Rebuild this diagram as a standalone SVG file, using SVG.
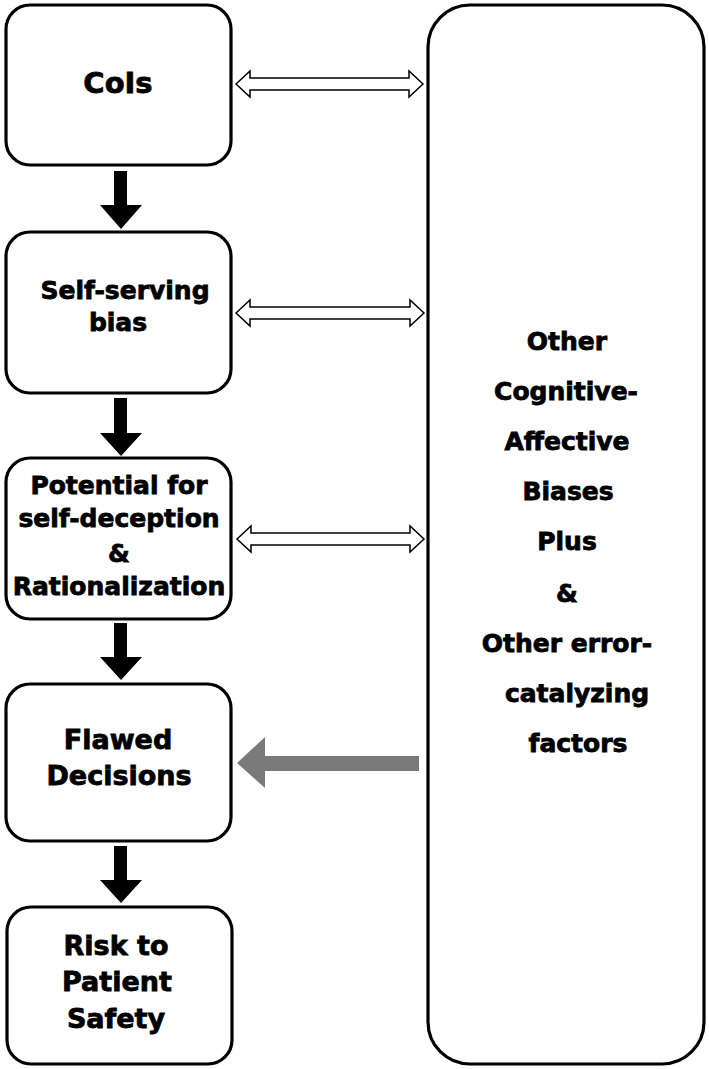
<svg xmlns="http://www.w3.org/2000/svg" width="709" height="1069" viewBox="0 0 709 1069">
<style>
.box{fill:#fff;stroke:#000;stroke-width:3.2}
.t{font-family:"DejaVu Sans",Verdana,sans-serif;font-weight:bold;font-size:25px;fill:#000;stroke:#000;stroke-width:0.8;text-anchor:middle}
.big{font-size:27px}
.dbl{fill:#fff;stroke:#000;stroke-width:1.5;stroke-linejoin:miter}
.down{fill:#000}
.gray{fill:#7a7a7a}
</style>
<rect width="709" height="1069" fill="#fff"/>
<g id="connectors">
<polygon class="dbl" points="236,84 250,71 250,78 409,78 409,71 423,84 409,97 409,90 250,90 250,97"/>
<polygon class="dbl" points="236,313 250,300 250,307 410,307 410,300 424,313 410,326 410,319 250,319 250,326"/>
<polygon class="dbl" points="237,539 251,526 251,533 410,533 410,526 424,539 410,552 410,545 251,545 251,552"/>
<polygon class="down" points="114,171 127,171 127,205 142,205 121,229 100,205 114,205"/>
<polygon class="down" points="114,398 127,398 127,433 142,433 121,456 100,433 114,433"/>
<polygon class="down" points="114,623 127,623 127,657 142,657 121,680 100,657 114,657"/>
<polygon class="down" points="114,846 127,846 127,880 142,880 121,903 100,880 114,880"/>
<polygon class="gray" points="237,763 265,737 265,756 419,756 419,771 265,771 265,788"/>
</g>
<g id="node-cois">
<rect class="box" x="6" y="5" width="225" height="160" rx="24"/>
<text class="t" x="118" y="93" style="font-size:29px">CoIs</text>
</g>
<g id="node-selfserving">
<rect class="box" x="6" y="232" width="225" height="161" rx="24"/>
<text class="t" x="125" y="299">Self-serving</text>
<text class="t" x="118" y="331">bias</text>
</g>
<g id="node-potential">
<rect class="box" x="6" y="458" width="225" height="161" rx="24"/>
<text class="t" x="119" y="494">Potential for</text>
<text class="t" x="119" y="527">self-deception</text>
<text class="t" x="119" y="562">&amp;</text>
<text class="t" x="119" y="595">Rationalization</text>
</g>
<g id="node-flawed">
<rect class="box" x="6" y="684" width="225" height="157" rx="24"/>
<text class="t big" x="118" y="749">Flawed</text>
<text class="t big" x="119" y="785">Decisions</text>
</g>
<g id="node-risk">
<rect class="box" x="7" y="907" width="225" height="157" rx="24"/>
<text class="t big" x="116" y="955">Risk to</text>
<text class="t big" x="117" y="991">Patient</text>
<text class="t big" x="116" y="1028">Safety</text>
</g>
<g id="node-other">
<rect class="box" x="428" y="5" width="276" height="1059" rx="42"/>
<text class="t" x="567" y="350">Other</text>
<text class="t" x="566" y="400">Cognitive-</text>
<text class="t" x="567" y="450">Affective</text>
<text class="t" x="568" y="500">Biases</text>
<text class="t" x="567" y="550">Plus</text>
<text class="t" x="567" y="602">&amp;</text>
<text class="t" x="567" y="652">Other error-</text>
<text class="t" x="577" y="702">catalyzing</text>
<text class="t" x="578" y="752">factors</text>
</g>
</svg>
